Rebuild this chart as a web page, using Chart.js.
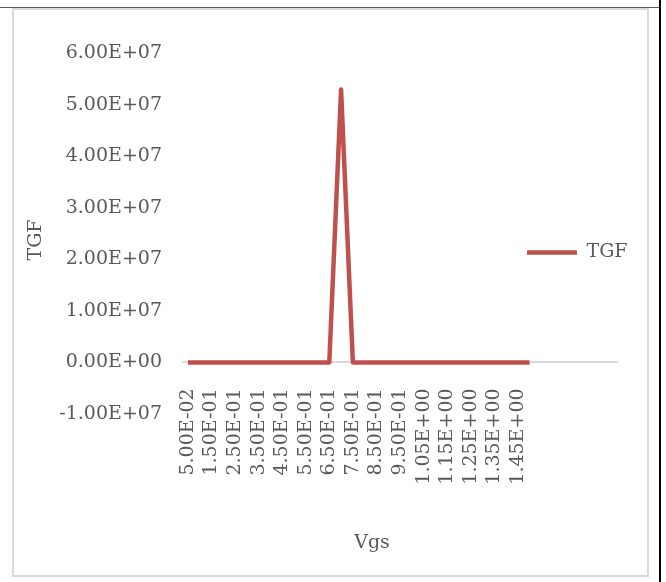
<!DOCTYPE html>
<html>
<head>
<meta charset="utf-8">
<script src="https://cdn.jsdelivr.net/npm/chart.js@4/dist/chart.umd.min.js"></script>
<style>
  html, body { margin: 0; padding: 0; background: #ffffff; }
  #wrap { position: relative; width: 666px; height: 582px; overflow: hidden; }
  #frame { position: absolute; left: 12px; top: 8px; width: 633px; height: 565px; border: 2px solid #d9d9d9; }
  #topRule { position: absolute; left: 0; top: 7px; width: 661px; height: 1px; background: #595959; }
  #rightRule { position: absolute; left: 659px; top: 0; width: 2px; height: 582px; background: #000000; }
  canvas { position: absolute; left: 0; top: 0; }
</style>
</head>
<body>
<div id="wrap">
  <div id="frame"></div>
  <div id="topRule"></div>
  <div id="rightRule"></div>
  <canvas id="chart" width="666" height="582"></canvas>
</div>
<script>
// Gate voltage sweep (V); the trailing nulls are empty rows of the sheet range.
const vgs = [
  0.05, 0.10, 0.15, 0.20, 0.25, 0.30, 0.35, 0.40, 0.45, 0.50,
  0.55, 0.60, 0.65, 0.70, 0.75, 0.80, 0.85, 0.90, 0.95, 1.00,
  1.05, 1.10, 1.15, 1.20, 1.25, 1.30, 1.35, 1.40, 1.45, 1.50,
  null, null, null, null, null, null, null
];

// Transconductance generation factor for each Vgs step.
const tgf = [
  0, 0, 0, 0, 0, 0, 0, 0, 0, 0,
  0, 0, 0, 5.29e7, 0, 0, 0, 0, 0, 0,
  0, 0, 0, 0, 0, 0, 0, 0, 0, 0
];

// Value axis ticks.
const yTicks = [-1e7, 0, 1e7, 2e7, 3e7, 4e7, 5e7, 6e7];

const seriesName = 'TGF';
const xTitle = 'Vgs';
const yTitle = 'TGF';

const FONT = '"DejaVu Serif", "Liberation Serif", serif';
const FONT_SIZE = 19;
const TEXT = '#595959';
const RED = '#C0504D';

// Excel-style scientific notation: 5.00E-02, 1.45E+00
function sci(v) {
  const [m, e] = Number(v).toExponential(2).split('e');
  const n = parseInt(e, 10);
  return m.toUpperCase() + 'E' + (n < 0 ? '-' : '+') + String(Math.abs(n)).padStart(2, '0');
}

// Places the legend to the right, over the empty end of the plot.
const legendSpot = {
  id: 'legendSpot',
  afterLayout(chart) {
    const lg = chart.legend;
    if (!lg) return;
    const w = lg.width;
    lg.left = 517; lg.right = lg.left + w;
    lg.top = 233; lg.bottom = lg.top + 44;
  }
};

// Axis captions.
const axisCaptions = {
  id: 'axisCaptions',
  afterDraw(chart) {
    const { ctx } = chart;
    ctx.save();
    ctx.fillStyle = TEXT;
    ctx.font = FONT_SIZE + 'px ' + FONT;
    ctx.textAlign = 'center';
    ctx.textBaseline = 'middle';
    ctx.fillText(xTitle, 372, 543);
    ctx.translate(36, 240);
    ctx.rotate(-Math.PI / 2);
    ctx.fillText(yTitle, 0, 0);
    ctx.restore();
  }
};

new Chart(document.getElementById('chart'), {
  type: 'line',
  data: {
    labels: vgs,
    datasets: [{
      label: seriesName,
      data: tgf,
      borderColor: RED,
      backgroundColor: RED,
      borderWidth: 4.5,
      borderJoinStyle: 'round',
      borderCapStyle: 'butt',
      pointRadius: 0,
      pointHoverRadius: 0,
      tension: 0,
      fill: false
    }]
  },
  options: {
    responsive: false,
    animation: false,
    events: [],
    layout: { padding: { top: 53, right: 48, bottom: 168, left: 0 } },
    plugins: {
      tooltip: { enabled: false },
      legend: {
        position: 'chartArea',
        align: 'start',
        labels: {
          usePointStyle: true,
          pointStyle: 'line',
          pointStyleWidth: 50,
          padding: 10,
          color: TEXT,
          font: { family: FONT, size: FONT_SIZE }
        }
      }
    },
    scales: {
      x: {
        type: 'category',
        position: { y: 0 },
        offset: true,
        grid: { display: false },
        border: { display: false },
        ticks: {
          autoSkip: false,
          minRotation: 90,
          maxRotation: 90,
          padding: 18,
          color: TEXT,
          font: { family: FONT, size: FONT_SIZE },
          callback(value, index) {
            const v = vgs[index];
            return (v !== null && index % 2 === 0) ? sci(v) : '';
          }
        },
        afterFit(scale) { scale.height = 0; }
      },
      y: {
        min: yTicks[0],
        max: yTicks[yTicks.length - 1],
        afterBuildTicks(scale) { scale.ticks = yTicks.map(v => ({ value: v })); },
        ticks: {
          padding: 20,
          color: TEXT,
          font: { family: FONT, size: FONT_SIZE },
          callback: (v) => sci(v)
        },
        grid: {
          drawTicks: false,
          lineWidth: 2,
          color: (c) => (c.tick && c.tick.value === 0 ? '#d9d9d9' : 'rgba(0,0,0,0)')
        },
        border: { display: false },
        afterFit(scale) { scale.width = 182; }
      }
    }
  },
  plugins: [legendSpot, axisCaptions]
});
</script>
</body>
</html>
